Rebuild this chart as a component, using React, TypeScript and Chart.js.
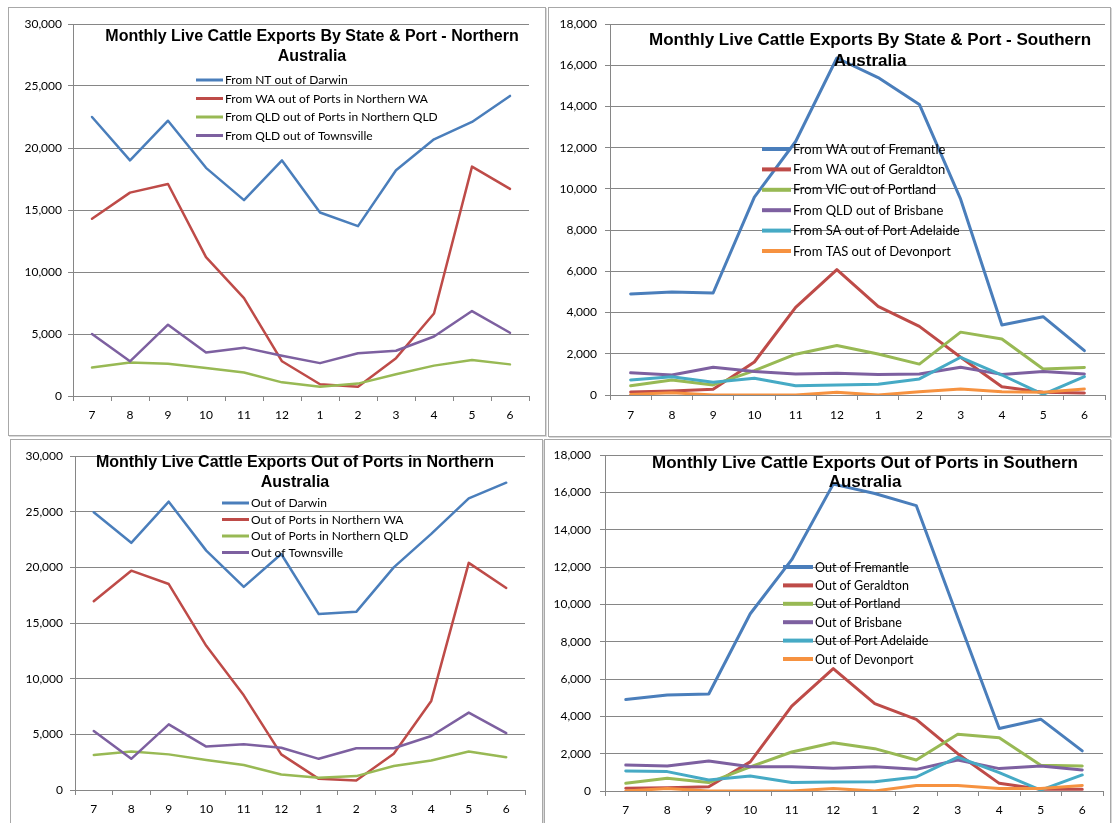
import React, { useEffect, useRef } from "react";
import { Chart, registerables } from "chart.js";

Chart.register(...registerables);

// ---------- DATA ----------
const months = ["7", "8", "9", "10", "11", "12", "1", "2", "3", "4", "5", "6"];

// Panel 1: By State & Port - Northern Australia
const ntDarwin = [22500, 19000, 22200, 18400, 15800, 19000, 14800, 13700, 18200, 20700, 22100, 24200];
const waNorthernWA = [14300, 16400, 17100, 11200, 7900, 2800, 950, 750, 3050, 6650, 18500, 16700];
const qldNorthernQLD = [2300, 2700, 2600, 2250, 1900, 1100, 750, 1000, 1750, 2450, 2900, 2550];
const qldTownsville = [5000, 2800, 5750, 3500, 3900, 3250, 2650, 3450, 3650, 4800, 6850, 5100];

// Panel 2: By State & Port - Southern Australia
const waFremantle = [4900, 5000, 4950, 9600, 12300, 16350, 15400, 14100, 9500, 3400, 3800, 2150];
const waGeraldton = [150, 200, 280, 1600, 4250, 6080, 4300, 3330, 1830, 400, 130, 100];
const vicPortland = [450, 730, 490, 1180, 1980, 2400, 1990, 1500, 3050, 2720, 1260, 1340];
const qldBrisbane = [1080, 970, 1350, 1140, 1020, 1050, 1000, 1020, 1350, 1000, 1140, 1020];
const saPortAdelaide = [730, 890, 620, 810, 450, 490, 520, 780, 1830, 970, 30, 890];
const tasDevonport = [30, 110, 0, 0, 0, 130, 0, 160, 290, 160, 130, 290];

// Panel 3: Out of Ports in Northern Australia
const outDarwin = [24950, 22200, 25900, 21500, 18250, 21200, 15800, 16000, 20000, 23000, 26200, 27600];
const outNorthernWA = [16950, 19700, 18500, 12950, 8500, 3200, 1000, 850, 3250, 8000, 20400, 18150];
const outNorthernQLD = [3150, 3450, 3200, 2700, 2250, 1400, 1100, 1250, 2150, 2650, 3450, 2950];
const outTownsville = [5300, 2800, 5900, 3900, 4100, 3800, 2800, 3750, 3750, 4850, 6950, 5100];

// Panel 4: Out of Ports in Southern Australia
const outFremantle = [4900, 5150, 5200, 9500, 12400, 16450, 15950, 15300, 9300, 3350, 3850, 2150];
const outGeraldton = [150, 180, 230, 1560, 4550, 6560, 4680, 3840, 2000, 410, 90, 90];
const outPortland = [410, 680, 450, 1290, 2090, 2590, 2270, 1660, 3040, 2860, 1380, 1340];
const outBrisbane = [1390, 1340, 1610, 1300, 1300, 1220, 1300, 1160, 1660, 1200, 1340, 1130];
const outPortAdelaide = [1070, 1040, 590, 800, 450, 480, 500, 750, 1820, 980, 50, 860];
const outDevonport = [0, 130, 0, 0, 0, 130, 0, 300, 300, 140, 130, 300];

// ---------- STYLE ----------
const BLUE = "#4a7ebb";
const RED = "#be4b48";
const GREEN = "#98b954";
const PURPLE = "#7d60a0";
const TEAL = "#46aac5";
const ORANGE = "#f69240";
const GRID = "#868686";

type Series = { label: string; data: number[]; color: string };
type Rect = { l: number; t: number; r: number; b: number };
type PanelCfg = {
  box: Rect;
  area: Rect;
  yMax: number;
  yStep: number;
  series: Series[];
  lineWidth: number;
  title: string[];
  titleX: number;
  titleY: number;
  titleGap: number;
  titleSize: number;
  legendX: number;
  legendY: number;
  legendGap: number;
  legendLineLen: number;
  legendLineWidth: number;
  legendSize: number;
  yPad: number;
  xPad: number;
};

const panels: PanelCfg[] = [
  {
    box: { l: 8, t: 7, r: 546, b: 436 },
    area: { l: 73, t: 24, r: 529, b: 396 },
    yMax: 30000,
    yStep: 5000,
    series: [
      { label: "From NT out of Darwin", data: ntDarwin, color: BLUE },
      { label: "From WA out of Ports in Northern WA", data: waNorthernWA, color: RED },
      { label: "From QLD out of Ports in Northern QLD", data: qldNorthernQLD, color: GREEN },
      { label: "From QLD out of Townsville", data: qldTownsville, color: PURPLE },
    ],
    lineWidth: 2.5,
    title: ["Monthly Live Cattle Exports By State & Port - Northern", "Australia"],
    titleX: 312,
    titleY: 37,
    titleGap: 20,
    titleSize: 16,
    legendX: 196,
    legendY: 80,
    legendGap: 18.5,
    legendLineLen: 27,
    legendLineWidth: 3,
    legendSize: 12,
    yPad: 6,
    xPad: 7,
  },
  {
    box: { l: 548, t: 7, r: 1111, b: 437 },
    area: { l: 610, t: 24, r: 1105, b: 395 },
    yMax: 18000,
    yStep: 2000,
    series: [
      { label: "From WA out of Fremantle", data: waFremantle, color: BLUE },
      { label: "From WA out of Geraldton", data: waGeraldton, color: RED },
      { label: "From VIC out of Portland", data: vicPortland, color: GREEN },
      { label: "From QLD out of Brisbane", data: qldBrisbane, color: PURPLE },
      { label: "From SA out of Port Adelaide", data: saPortAdelaide, color: TEAL },
      { label: "From TAS out of Devonport", data: tasDevonport, color: ORANGE },
    ],
    lineWidth: 3,
    title: ["Monthly Live Cattle Exports By State & Port - Southern", "Australia"],
    titleX: 870,
    titleY: 40,
    titleGap: 21,
    titleSize: 17,
    legendX: 762,
    legendY: 149,
    legendGap: 20.4,
    legendLineLen: 29,
    legendLineWidth: 4,
    legendSize: 13,
    yPad: 8,
    xPad: 8,
  },
  {
    box: { l: 10, t: 439, r: 543, b: 830 },
    area: { l: 75, t: 456, r: 525, b: 790 },
    yMax: 30000,
    yStep: 5000,
    series: [
      { label: "Out of Darwin", data: outDarwin, color: BLUE },
      { label: "Out of Ports in Northern WA", data: outNorthernWA, color: RED },
      { label: "Out of Ports in Northern QLD", data: outNorthernQLD, color: GREEN },
      { label: "Out of Townsville", data: outTownsville, color: PURPLE },
    ],
    lineWidth: 2.5,
    title: ["Monthly Live Cattle Exports Out of Ports in Northern", "Australia"],
    titleX: 295,
    titleY: 463,
    titleGap: 20,
    titleSize: 16,
    legendX: 222,
    legendY: 503,
    legendGap: 16.5,
    legendLineLen: 27,
    legendLineWidth: 3,
    legendSize: 12,
    yPad: 7,
    xPad: 7,
  },
  {
    box: { l: 544, t: 439, r: 1111, b: 830 },
    area: { l: 605, t: 455, r: 1103, b: 791 },
    yMax: 18000,
    yStep: 2000,
    series: [
      { label: "Out of Fremantle", data: outFremantle, color: BLUE },
      { label: "Out of Geraldton", data: outGeraldton, color: RED },
      { label: "Out of Portland", data: outPortland, color: GREEN },
      { label: "Out of Brisbane", data: outBrisbane, color: PURPLE },
      { label: "Out of Port Adelaide", data: outPortAdelaide, color: TEAL },
      { label: "Out of Devonport", data: outDevonport, color: ORANGE },
    ],
    lineWidth: 3,
    title: ["Monthly Live Cattle Exports Out of Ports in Southern", "Australia"],
    titleX: 865,
    titleY: 463,
    titleGap: 19,
    titleSize: 17,
    legendX: 783,
    legendY: 567,
    legendGap: 18.4,
    legendLineLen: 30,
    legendLineWidth: 4,
    legendSize: 12.5,
    yPad: 9,
    xPad: 7,
  },
];

const overlayPlugin = {
  id: "excelOverlay",
  afterDraw(chart: any, _args: any, opts: any) {
    const ctx = chart.ctx as CanvasRenderingContext2D;
    ctx.save();
    ctx.fillStyle = "#000";
    ctx.textAlign = "center";
    ctx.textBaseline = "middle";
    ctx.font = `bold ${opts.titleSize}px "Liberation Sans", Arial, sans-serif`;
    (opts.title as string[]).forEach((line, i) => {
      ctx.fillText(line, opts.titleX, opts.titleY + i * opts.titleGap);
    });
    ctx.textAlign = "left";
    ctx.font = `${opts.legendSize}px Lato, "Open Sans", sans-serif`;
    chart.data.datasets.forEach((ds: any, i: number) => {
      const y = opts.legendY + i * opts.legendGap;
      ctx.strokeStyle = ds.borderColor;
      ctx.lineWidth = opts.legendLineWidth;
      ctx.beginPath();
      ctx.moveTo(opts.legendX, y);
      ctx.lineTo(opts.legendX + opts.legendLineLen, y);
      ctx.stroke();
      ctx.fillStyle = "#000";
      ctx.fillText(ds.label, opts.legendX + opts.legendLineLen + 2, y + 0.5);
    });
    ctx.restore();
  },
};

function Panel({ cfg }: { cfg: PanelCfg }) {
  const ref = useRef<HTMLCanvasElement | null>(null);
  const w = cfg.box.r - cfg.box.l;
  const h = cfg.box.b - cfg.box.t;

  useEffect(() => {
    const canvas = ref.current;
    if (!canvas) return;
    const ox = cfg.box.l;
    const oy = cfg.box.t;
    const n = cfg.series.length;
    const chart = new Chart(canvas, {
      type: "line",
      data: {
        labels: months,
        datasets: cfg.series.map((s, i) => ({
          label: s.label,
          data: s.data,
          borderColor: s.color,
          backgroundColor: s.color,
          borderWidth: cfg.lineWidth,
          pointRadius: 0,
          pointHoverRadius: 0,
          tension: 0,
          fill: false,
          order: n - i,
          borderJoinStyle: "round" as const,
          borderCapStyle: "round" as const,
        })),
      },
      options: {
        animation: false,
        responsive: false,
        devicePixelRatio: 1,
        events: [],
        layout: {
          padding: {
            left: 0,
            top: cfg.area.t - cfg.box.t,
            right: cfg.box.r - cfg.area.r,
            bottom: 0,
          },
        },
        plugins: {
          legend: { display: false },
          title: { display: false },
          tooltip: { enabled: false },
          excelOverlay: {
            title: cfg.title,
            titleX: cfg.titleX - ox,
            titleY: cfg.titleY - oy,
            titleGap: cfg.titleGap,
            titleSize: cfg.titleSize,
            legendX: cfg.legendX - ox,
            legendY: cfg.legendY - oy,
            legendGap: cfg.legendGap,
            legendLineLen: cfg.legendLineLen,
            legendLineWidth: cfg.legendLineWidth,
            legendSize: cfg.legendSize,
          },
        } as any,
        scales: {
          x: {
            type: "category",
            offset: true,
            grid: {
              display: true,
              drawOnChartArea: false,
              drawTicks: true,
              tickLength: 5,
              offset: true,
              color: GRID,
              lineWidth: 1,
            },
            border: { display: true, color: GRID, width: 1 },
            ticks: {
              color: "#000",
              font: { family: "Lato, 'Open Sans', sans-serif", size: 12 },
              padding: cfg.xPad,
              maxRotation: 0,
              autoSkip: false,
            },
            afterFit: (scale: any) => {
              scale.height = cfg.box.b - cfg.area.b;
            },
          },
          y: {
            min: 0,
            max: cfg.yMax,
            grid: {
              color: GRID,
              lineWidth: 1,
              drawTicks: true,
              tickLength: 5,
            },
            border: { display: true, color: GRID, width: 1 },
            ticks: {
              stepSize: cfg.yStep,
              color: "#000",
              font: { family: "Lato, 'Open Sans', sans-serif", size: 12 },
              padding: cfg.yPad,
              callback: (v: any) => Number(v).toLocaleString("en-US"),
            },
            afterFit: (scale: any) => {
              scale.width = cfg.area.l - cfg.box.l;
            },
          },
        },
      },
      plugins: [overlayPlugin],
    });
    return () => chart.destroy();
  }, [cfg]);

  return (
    <div
      style={{
        position: "absolute",
        left: cfg.box.l,
        top: cfg.box.t,
        width: w,
        height: h,
      }}
    >
      <div
        style={{
          position: "absolute",
          inset: 0,
          border: "1px solid #a8a8a8",
          boxShadow: "1px 1px 0 #d8d8d8",
          boxSizing: "border-box",
          background: "#fff",
        }}
      />
      <canvas
        ref={ref}
        width={w}
        height={h}
        style={{ position: "absolute", left: 0, top: 0, width: w, height: h }}
      />
    </div>
  );
}

export default function App() {
  return (
    <div
      style={{
        position: "fixed",
        left: 0,
        top: 0,
        width: 1112,
        height: 823,
        overflow: "hidden",
        background: "#fff",
      }}
    >
      {panels.map((p, i) => (
        <Panel key={i} cfg={p} />
      ))}
    </div>
  );
}
